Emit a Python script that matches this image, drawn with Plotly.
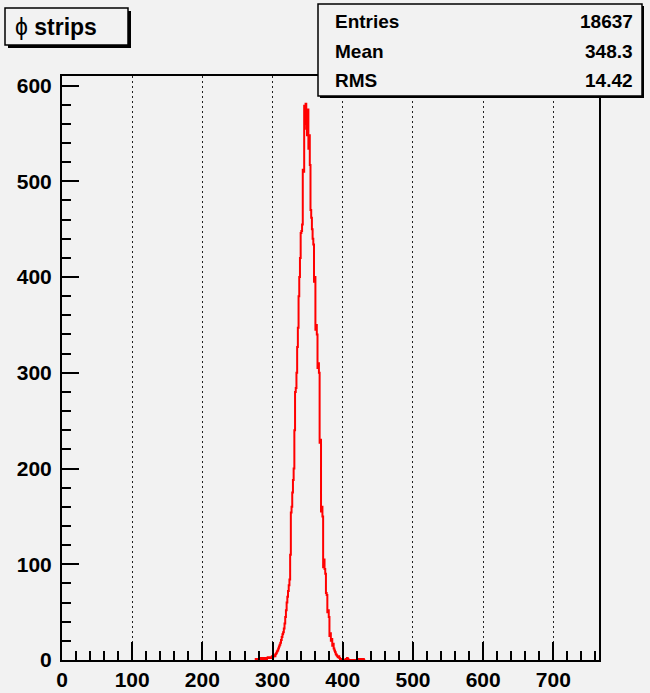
import plotly.graph_objects as go

# ---------------- data ----------------
first_strip = 276
counts = [
    # 276-299
    1, 0, 1, 1, 0, 1, 2, 1, 1, 2, 1, 2, 1, 2, 2, 1, 2, 3, 2, 2, 3, 2, 3, 4,
    # 300-330
    3, 4, 5, 4, 6, 7, 9, 10, 12, 14, 16, 18, 21, 24, 27, 29, 33, 38, 45, 52,
    60, 66, 72, 78, 84, 110, 154, 160, 175, 188, 200,
    # 331-343
    240, 280, 284, 300, 327, 347, 380, 400, 420, 446, 448, 455, 512,
    # 344-353
    510, 579, 560, 581, 555, 548, 575, 534, 548, 517,
    # 354-370
    470, 462, 450, 440, 434, 395, 400, 345, 350, 340, 305, 310, 300, 227, 230,
    155, 160,
    # 371-397
    150, 97, 105, 95, 90, 70, 68, 50, 52, 45, 25, 28, 20, 22, 15, 17, 12, 10,
    8, 6, 5, 4, 3, 4, 2, 1, 1,
    # 398-431
    0, 0, 0, 0, 0, 0, 1, 0, 2, 1, 0, 0, 0, 0, 0, 0, 0, 0, 0, 0, 0, 0, 0, 0,
    1, 0, 1, 0, 1, 0, 0, 1, 0, 0,
]
x_tick_vals = [0, 100, 200, 300, 400, 500, 600, 700]
y_tick_vals = [0, 100, 200, 300, 400, 500, 600]
title_text = "ϕ strips"
stats_labels = ["Entries", "Mean", "RMS"]
stats_values = ["18637", "348.3", "14.42"]

# ---------------- geometry ----------------
W, H = 650, 693
L, R, T, B = 62, 51, 76, 33
PW, PH = W - L - R, H - T - B

def px(xp):
    return (xp - L) / PW

def py(yp):
    return (H - B - yp) / PH

BG = "#f2f2f2"
FONT = "Liberation Sans, Arial, Helvetica, sans-serif"

# step-line histogram built from bin edges
edges = [first_strip + i for i in range(len(counts) + 1)]
xs = [edges[0]] + edges
ys = [0] + counts + [0]

fig = go.Figure()
fig.add_trace(go.Scatter(
    x=xs, y=ys, mode="lines", line=dict(color="#ff0000", width=2, shape="hv"),
    hoverinfo="skip", showlegend=False,
))

fig.update_layout(
    width=W, height=H,
    margin=dict(l=L, r=R, t=T, b=B, pad=0, autoexpand=False),
    paper_bgcolor=BG, plot_bgcolor=BG,
    font=dict(family=FONT, color="black"),
    showlegend=False,
)

fig.update_xaxes(
    range=[0, 765], tickvals=x_tick_vals, ticktext=[str(v) for v in x_tick_vals],
    ticks="inside", ticklen=18, tickwidth=1.5, tickcolor="black",
    minor=dict(dtick=20, ticks="inside", ticklen=9, tickwidth=1.5, tickcolor="black", showgrid=False),
    showline=True, linecolor="black", linewidth=2, mirror=True,
    showgrid=True, gridcolor="#222222", gridwidth=1.3, griddash="2px,3px",
    zeroline=False, automargin=False, ticklabelstandoff=0,
    tickfont=dict(family=FONT, size=21, weight="bold", color="black"),
)
fig.update_yaxes(
    range=[0, 610], tickvals=y_tick_vals, ticktext=[str(v) for v in y_tick_vals],
    ticks="inside", ticklen=17, tickwidth=1.5, tickcolor="black",
    minor=dict(dtick=20, ticks="inside", ticklen=9, tickwidth=1.5, tickcolor="black", showgrid=False),
    showline=True, linecolor="black", linewidth=2, mirror=True,
    showgrid=False, zeroline=False, ticklabelstandoff=4, automargin=False,
    tickfont=dict(family=FONT, size=21, weight="bold", color="black"),
)

shapes = []
annotations = []

# title box with shadow
tb = (5, 8, 128, 45)
shapes.append(dict(type="rect", xref="paper", yref="paper",
                   x0=px(tb[0] + 3), x1=px(tb[2] + 3), y0=py(tb[1] + 3), y1=py(tb[3] + 3),
                   fillcolor="black", line=dict(width=0), layer="above"))
shapes.append(dict(type="rect", xref="paper", yref="paper",
                   x0=px(tb[0]), x1=px(tb[2]), y0=py(tb[1]), y1=py(tb[3]),
                   fillcolor=BG, line=dict(color="black", width=1.5), layer="above"))
annotations.append(dict(xref="paper", yref="paper", x=px(13), y=py(27),
                        xanchor="left", yanchor="middle", showarrow=False,
                        text="ϕ <b>strips</b>",
                        font=dict(family=FONT, size=23, color="black")))

# stats box with shadow
sb = (318, 4, 642, 96)
shapes.append(dict(type="rect", xref="paper", yref="paper",
                   x0=px(sb[0] + 2), x1=px(sb[2] + 2), y0=py(sb[1] + 2), y1=py(sb[3] + 2),
                   fillcolor="black", line=dict(width=0), layer="above"))
shapes.append(dict(type="rect", xref="paper", yref="paper",
                   x0=px(sb[0]), x1=px(sb[2]), y0=py(sb[1]), y1=py(sb[3]),
                   fillcolor=BG, line=dict(color="black", width=1.5), layer="above"))
row_y = [21, 51, 81]
for lab, val, yy in zip(stats_labels, stats_values, row_y):
    annotations.append(dict(xref="paper", yref="paper", x=px(333), y=py(yy),
                            xanchor="left", yanchor="middle", showarrow=False,
                            text=f"<b>{lab}</b>",
                            font=dict(family=FONT, size=19, color="black")))
    annotations.append(dict(xref="paper", yref="paper", x=px(635), y=py(yy),
                            xanchor="right", yanchor="middle", showarrow=False,
                            text=f"<b>{val}</b>",
                            font=dict(family=FONT, size=19, color="black")))

fig.update_layout(shapes=shapes, annotations=annotations)
fig.write_html(
    "out.html",
    config={"displayModeBar": False},
    post_script="document.body.style.margin='0';document.body.style.overflow='hidden';",
)
